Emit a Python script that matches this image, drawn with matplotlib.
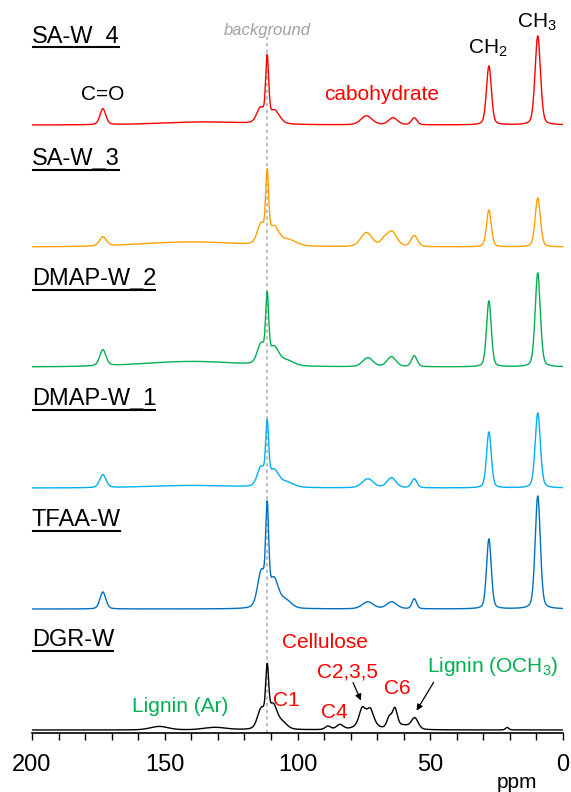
import numpy as np
import matplotlib.pyplot as plt
from matplotlib.lines import Line2D
from matplotlib.transforms import IdentityTransform

plt.rcParams['font.family'] = ['Liberation Sans', 'DejaVu Sans']
plt.rcParams['mathtext.fontset'] = 'custom'
plt.rcParams['mathtext.rm'] = 'Liberation Sans'
plt.rcParams['mathtext.it'] = 'Liberation Sans:italic'

# sample names, bottom to top, with trace colours and vertical offsets
samples = ['DGR-W', 'TFAA-W', 'DMAP-W_1', 'DMAP-W_2', 'SA-W_3', 'SA-W_4']
colors = ['#000000', '#0070C0', '#00B0F0', '#00B050', '#FFA000', '#FF0000']
offsets = [3, 124, 245, 366, 486, 608]

# peak tables: centre (ppm), height, full width at half height (ppm)
peaks = {
    'DGR-W': [
        (152, 3.5, 8), (131, 2.5, 10),
        (111.4, 50, 1.3), (113.6, 20, 3.4), (109.2, 24, 3.8), (105.5, 6, 4),
        (88.5, 3.5, 2.5), (84, 5, 3),
        (75.6, 16, 2.8), (72.6, 15, 3.0), (74, 6, 8), (65.4, 11, 2.2),
        (63.3, 19, 2.2), (55.8, 11, 3.0), (60, 4, 6), (21, 2.5, 1.5),
    ],
    'TFAA-W': [
        (173.3, 17, 2.6),
        (111.4, 86, 1.3), (113.6, 36, 3.4), (108.9, 28, 4.0), (104.5, 8, 5),
        (73.5, 7, 5), (64.5, 7, 4.5), (56, 10, 2.0),
        (27.9, 70, 2.1), (9.5, 113, 2.3),
    ],
    'DMAP-W_1': [
        (173.3, 13, 2.8), (140, 2.5, 40),
        (111.4, 56, 1.3), (113.7, 19, 3.4), (108.8, 16, 4.2), (104, 5, 6),
        (73.5, 9, 5), (64.6, 10, 4), (56, 9, 2.4),
        (27.9, 56, 2.1), (9.5, 75, 2.3),
    ],
    'DMAP-W_2': [
        (173.3, 16, 2.8), (140, 5.5, 45),
        (111.4, 61, 1.3), (113.7, 20, 3.4), (108.8, 17, 4.2), (104, 5, 6),
        (73.5, 9, 4.5), (64.6, 10, 4), (56, 11, 2.4),
        (27.9, 66, 2.1), (9.5, 94, 2.3),
    ],
    'SA-W_3': [
        (173.3, 9, 3.0), (140, 5, 45),
        (111.4, 64, 1.3), (113.7, 20, 3.4), (108.8, 17, 4.2), (103.5, 6, 7),
        (74, 14, 5), (64.5, 15, 4.5), (67.5, 5, 3), (56, 11, 3.0),
        (27.9, 37, 2.1), (9.5, 49, 2.3),
    ],
    'SA-W_4': [
        (173.3, 16, 2.6), (135, 3, 40),
        (111.4, 61, 1.3), (113.9, 15, 3.4), (108.6, 13, 4.4),
        (74, 9, 5), (64, 7, 4), (56, 7, 2.4),
        (27.9, 59, 2.2), (9.5, 89, 2.4),
    ],
}

ppm = np.linspace(0, 200, 4001)


def spectrum(table):
    # pseudo-Voigt lines (30 % Lorentzian)
    y = np.zeros_like(ppm)
    for c, h, w in table:
        g = np.exp(-4 * np.log(2) * ((ppm - c) / w) ** 2)
        lor = 1 / (1 + (2 * (ppm - c) / w) ** 2)
        y += h * (0.7 * g + 0.3 * lor)
    return y


fig = plt.figure(figsize=(5.71, 7.92), dpi=100)
ax = fig.add_axes([32 / 571, 59 / 792, 531 / 571, 733 / 792])

ax.plot([111.4, 111.4], [0, 696], color='#b0b0b0', lw=1.2,
        ls=(0, (2, 2)), zorder=1)

for name, col, off in zip(samples, colors, offsets):
    ax.plot(ppm, spectrum(peaks[name]) + off, color=col, lw=1.0, zorder=2)

ax.set_xlim(200, 0)
ax.set_ylim(0, 733)
for s in ['top', 'left', 'right']:
    ax.spines[s].set_visible(False)
ax.spines['bottom'].set_linewidth(1.2)
ax.set_yticks([])
ax.set_xticks([200, 150, 100, 50, 0])
ax.set_xticks(np.arange(0, 201, 10), minor=True)
ax.tick_params(axis='x', which='both', direction='out', length=5, width=1,
               labelsize=17, pad=10)
ax.text(17.3, -49, 'ppm', fontsize=15, ha='center', va='center', clip_on=False)

# sample labels (underlined)
label_base = [86.5, 206.5, 327.5, 447.5, 567.5, 690.3]
texts = []
for name, yb in zip(samples, label_base):
    t = ax.text(200, yb, name, fontsize=17, ha='left', va='baseline')
    texts.append((t, yb))

# peak annotations
ax.text(173.5, 638, 'C=O', fontsize=15, ha='center', va='center')
ax.text(28.2, 685, 'CH$_2$', fontsize=15, ha='center', va='center')
ax.text(9.8, 711, 'CH$_3$', fontsize=15, ha='center', va='center')
ax.text(68.3, 638, 'cabohydrate', fontsize=15, color='#FF0000',
        ha='center', va='center')
ax.text(111.4, 703, 'background', fontsize=12, color='#a0a0a0',
        style='italic', ha='center', va='center')

red = '#FF0000'
green = '#00B050'
ax.text(106.0, 90, 'Cellulose', fontsize=15, color=red, ha='left', va='center')
ax.text(104.3, 33, 'C1', fontsize=15, color=red, ha='center', va='center')
ax.text(86.2, 21, 'C4', fontsize=15, color=red, ha='center', va='center')
ax.text(81.0, 61, 'C2,3,5', fontsize=15, color=red, ha='center', va='center')
ax.text(62.5, 45, 'C6', fontsize=15, color=red, ha='center', va='center')
ax.text(26.4, 67, 'Lignin (OCH$_3$)', fontsize=15, color=green,
        ha='center', va='center')
ax.text(144.3, 26, 'Lignin (Ar)', fontsize=15, color=green,
        ha='center', va='center')

arrow = dict(arrowstyle='-|>', color='black', lw=0.9, mutation_scale=9)
ax.annotate('', xy=(75.7, 30), xytext=(79.5, 53), arrowprops=arrow)
ax.annotate('', xy=(55.7, 20), xytext=(48.2, 53), arrowprops=arrow)

fig.canvas.draw()
renderer = fig.canvas.get_renderer()
for t, yb in texts:
    bb = t.get_window_extent(renderer)
    y_disp = ax.transData.transform((200, yb))[1] - 4.5
    fig.add_artist(Line2D([bb.x0 + 1, bb.x1 - 1], [y_disp, y_disp],
                          transform=IdentityTransform(), color='black',
                          lw=1.5))

fig.savefig('out.png', dpi=100)
